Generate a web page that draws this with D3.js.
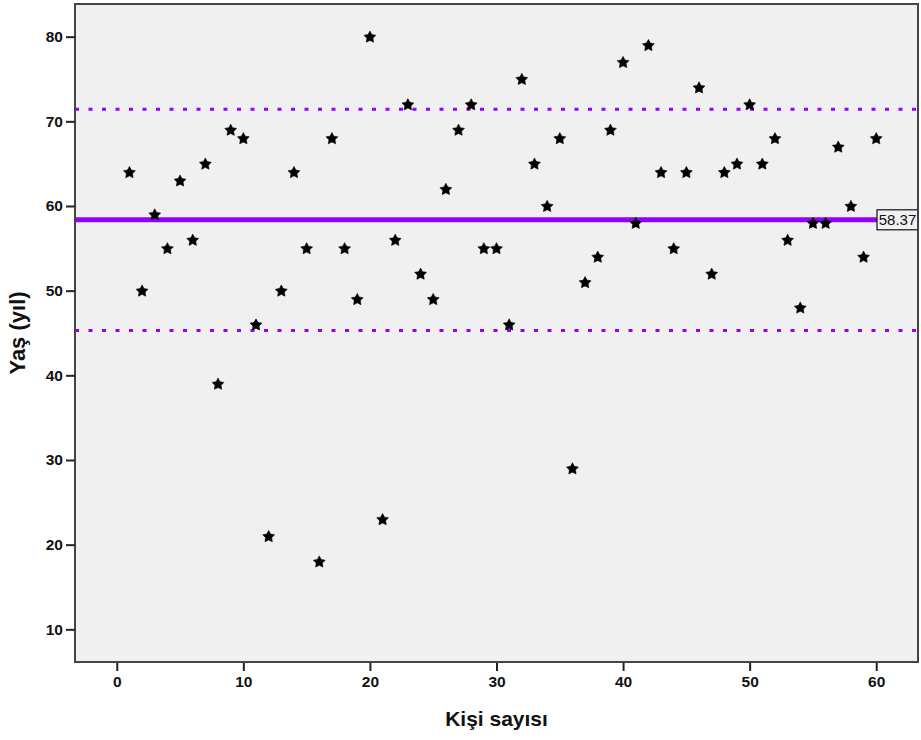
<!DOCTYPE html>
<html>
<head>
<meta charset="utf-8">
<script src="https://cdn.jsdelivr.net/npm/d3@7"></script>
<style>
  body { margin: 0; background: #fff; }
  text { font-family: Arial, "Liberation Sans", sans-serif; }
</style>
</head>
<body>
<div id="chart"></div>
<script>
// Data
let persons = d3.range(1, 61);
let ages = [64, 50, 59, 55, 63, 56, 65, 39, 69, 68,
            46, 21, 50, 64, 55, 18, 68, 55, 49, 80,
            23, 56, 72, 52, 49, 62, 69, 72, 55, 55,
            46, 75, 65, 60, 68, 29, 51, 54, 69, 77,
            58, 79, 64, 55, 64, 74, 52, 64, 65, 72,
            65, 68, 56, 48, 58, 58, 67, 60, 54, 68];
let meanAge = 58.37;
let limits = [71.43, 45.31];
let xTicks = [0, 10, 20, 30, 40, 50, 60];
let yTicks = [10, 20, 30, 40, 50, 60, 70, 80];

let width = 921, height = 740;
let margin = {top: 4, right: 3, bottom: 78, left: 75};
let innerW = width - margin.left - margin.right;
let innerH = height - margin.top - margin.bottom;

let purple = '#9400ff';

let xScale = d3.scaleLinear()
    .domain([-3.3, 63.3])
    .range([0, innerW]);

let yScale = d3.scaleLinear()
    .domain([6.14, 83.86])
    .range([innerH, 0]);

let svg = d3.select("#chart")
    .append("svg")
    .attr("width", width)
    .attr("height", height)
    .append("g")
    .attr("transform", "translate(" + margin.left + "," + margin.top + ")");

// plot background
svg.append("rect")
    .attr("width", innerW)
    .attr("height", innerH)
    .attr("fill", "#f0f0f0");

// +/- limits (dotted)
svg.selectAll(".limit")
    .data(limits)
    .enter()
    .append("line")
    .attr("class", "limit")
    .attr("x1", 0)
    .attr("x2", innerW)
    .attr("y1", d => yScale(d))
    .attr("y2", d => yScale(d))
    .attr("stroke", purple)
    .attr("stroke-width", 3)
    .attr("stroke-dasharray", "4,9.5");

// mean line
let labelW = 41;
svg.append("line")
    .attr("x1", 0)
    .attr("x2", innerW - labelW)
    .attr("y1", yScale(meanAge))
    .attr("y2", yScale(meanAge))
    .attr("stroke", purple)
    .attr("stroke-width", 5);

// fat five-point star like the SPSS marker
let starPoints = d3.range(10).map(k => [k * Math.PI / 5, k % 2 ? 3.2 : 6.2]);
let star = d3.lineRadial().curve(d3.curveLinearClosed)(starPoints);
svg.selectAll(".star")
    .data(persons)
    .enter()
    .append("path")
    .attr("class", "star")
    .attr("d", star)
    .attr("transform", (d, i) => "translate(" + xScale(d) + "," + (yScale(ages[i]) + 0.5) + ")")
    .attr("fill", "#000")
    .attr("stroke", "#000")
    .attr("stroke-width", 0.6)
    .attr("stroke-linejoin", "round");

// mean label
let label = svg.append("g")
    .attr("transform", "translate(" + (innerW - labelW) + "," + (yScale(meanAge) - 10) + ")");
label.append("rect")
    .attr("width", labelW)
    .attr("height", 20)
    .attr("fill", "#f0f0f0")
    .attr("stroke", "#111")
    .attr("stroke-width", 1.2);
label.append("text")
    .attr("x", labelW / 2)
    .attr("y", 15.5)
    .attr("text-anchor", "middle")
    .style("font-size", "15px")
    .attr("fill", "#111")
    .text(meanAge.toFixed(2));

// frame
svg.append("rect")
    .attr("width", innerW)
    .attr("height", innerH)
    .attr("fill", "none")
    .attr("stroke", "#444")
    .attr("stroke-width", 2);

// axes
let xAxis = svg.append("g")
    .attr("transform", "translate(0," + innerH + ")")
    .call(d3.axisBottom(xScale).tickValues(xTicks).tickSize(9).tickPadding(5));
let yAxis = svg.append("g")
    .call(d3.axisLeft(yScale).tickValues(yTicks).tickSize(9).tickPadding(3));

[xAxis, yAxis].forEach(ax => {
    ax.select(".domain").remove();
    ax.selectAll(".tick line").attr("stroke", "#222").attr("stroke-width", 2);
    ax.selectAll(".tick text")
        .attr("fill", "#111")
        .style("font-size", "15.5px")
        .style("font-weight", "bold");
});
xAxis.selectAll(".tick line").attr("y1", 1);

// axis titles
svg.append("text")
    .attr("x", innerW / 2)
    .attr("y", innerH + 64)
    .attr("text-anchor", "middle")
    .style("font-size", "21px")
    .style("font-weight", "bold")
    .attr("fill", "#111")
    .text("Kişi sayısı");

svg.append("text")
    .attr("transform", "translate(" + (-50) + "," + (innerH / 2) + ") rotate(-90)")
    .attr("text-anchor", "middle")
    .style("font-size", "22px")
    .style("font-weight", "bold")
    .attr("fill", "#111")
    .text("Yaş (yıl)");
</script>
</body>
</html>
